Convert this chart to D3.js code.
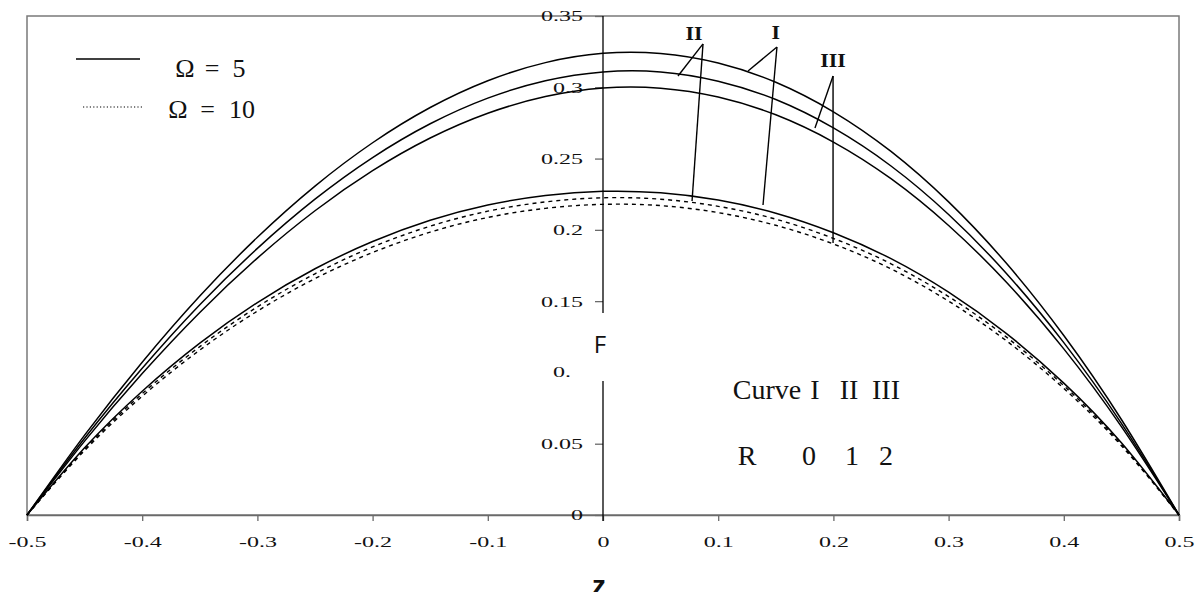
<!DOCTYPE html>
<html>
<head>
<meta charset="utf-8">
<script src="https://cdn.jsdelivr.net/npm/d3@7"></script>
<style>
  body { margin: 0; background: #fff; }
  svg { display: block; }
</style>
</head>
<body>
<div id="chart"></div>
<script>
// z positions (read every 0.05)
const zValues = [-0.5, -0.45, -0.4, -0.35, -0.3, -0.25, -0.2, -0.15, -0.1, -0.05, 0,
                 0.05, 0.1, 0.15, 0.2, 0.25, 0.3, 0.35, 0.4, 0.45, 0.5];

// Omega = 5, curves I, II, III (R = 0, 1, 2)
const omega5R0 = [0, 0.0560, 0.1072, 0.1536, 0.1948, 0.2307, 0.2611, 0.2858, 0.3046, 0.3173, 0.3238,
                  0.3237, 0.3170, 0.3035, 0.2828, 0.2550, 0.2196, 0.1767, 0.1259, 0.0670, 0];
const omega5R1 = [0, 0.0538, 0.1029, 0.1475, 0.1870, 0.2215, 0.2507, 0.2744, 0.2924, 0.3046, 0.3108,
                  0.3108, 0.3043, 0.2914, 0.2715, 0.2448, 0.2108, 0.1696, 0.1209, 0.0643, 0];
const omega5R2 = [0, 0.0518, 0.0992, 0.1421, 0.1802, 0.2134, 0.2415, 0.2644, 0.2818, 0.2935, 0.2995,
                  0.2994, 0.2932, 0.2807, 0.2616, 0.2359, 0.2031, 0.1634, 0.1165, 0.0620, 0];

// Omega = 10, curves I, II, III
const omega10R0 = [0, 0.0471, 0.0868, 0.1205, 0.1490, 0.1727, 0.1918, 0.2067, 0.2174, 0.2241, 0.2270,
                   0.2260, 0.2209, 0.2117, 0.1980, 0.1798, 0.1563, 0.1274, 0.0925, 0.0506, 0];
const omega10R1 = [0, 0.0462, 0.0851, 0.1181, 0.1460, 0.1692, 0.1880, 0.2026, 0.2131, 0.2196, 0.2225,
                   0.2215, 0.2165, 0.2075, 0.1940, 0.1762, 0.1532, 0.1249, 0.0907, 0.0496, 0];
const omega10R2 = [0, 0.0452, 0.0833, 0.1157, 0.1430, 0.1658, 0.1841, 0.1984, 0.2087, 0.2151, 0.2179,
                   0.2170, 0.2121, 0.2032, 0.1901, 0.1726, 0.1500, 0.1223, 0.0888, 0.0486, 0];

const xTicks = [-0.5, -0.4, -0.3, -0.2, -0.1, 0, 0.1, 0.2, 0.3, 0.4, 0.5];
const yTicks = [0, 0.05, 0.15, 0.2, 0.25, 0.3, 0.35];
const yTickLabels = ["0", "0.05", "0.15", "0.2", "0.25", "0.3", "0.35"];
const yAxisGap = [0.094, 0.1417];  // y axis is interrupted here (F label)

// curve labels and their leader lines, in data units
const curveNames = ["II", "I", "III"];
const curveLabelPos = [[0.079, 0.3332], [0.150, 0.3339], [0.1997, 0.3142]];
const leaderApex = [[0.0868, 0.3304], [0.151, 0.3283], [0.1997, 0.3079]];
const leaderEnds = [
  [[0.0651, 0.3079], [0.0773, 0.2202]],
  [[0.1259, 0.3114], [0.1389, 0.2174]],
  [[0.184, 0.2714], [0.1997, 0.1908]]
];

const tableHead = ["Curve", "I", "II", "III"];
const tableR = ["R", "0", "1", "2"];

const width = 1196, height = 592;
const margin = {left: 27, right: 17, top: 16, bottom: 77};

const svg = d3.select("#chart").append("svg")
  .attr("width", width)
  .attr("height", height);

const x = d3.scaleLinear().domain([-0.5, 0.5]).range([margin.left, width - margin.right]);
const y = d3.scaleLinear().domain([0, 0.35]).range([height - margin.bottom, margin.top]);

const numFont = "'Liberation Serif', 'Times New Roman', serif";
const stretch = 1.55;

// plot frame
svg.append("rect")
  .attr("x", x(-0.5)).attr("y", y(0.35))
  .attr("width", x(0.5) - x(-0.5)).attr("height", y(0) - y(0.35))
  .attr("fill", "none")
  .attr("stroke", "#7a7a7a")
  .attr("stroke-width", 1.5);

// x axis
const xAxis = svg.append("g")
  .attr("transform", `translate(0,${y(0)})`)
  .call(d3.axisBottom(x).tickValues(xTicks).tickSize(6).tickPadding(15)
    .tickFormat(d => d === 0 ? "0" : String(+d.toFixed(1))));
xAxis.select(".domain").attr("stroke", "#6a6a6a").attr("stroke-width", 1.5);
xAxis.selectAll(".tick line").attr("stroke", "#6a6a6a").attr("stroke-width", 1.3);
xAxis.selectAll("text")
  .attr("font-family", numFont)
  .attr("font-size", "15.5px")
  .attr("fill", "#111")
  .attr("transform", `scale(${stretch},1)`);

// y axis at z = 0
const yAxis = svg.append("g")
  .attr("transform", `translate(${x(0)},0)`)
  .call(d3.axisLeft(y).tickValues(yTicks).tickSize(8).tickPadding(0)
    .tickFormat((d, i) => yTickLabels[i]));
yAxis.select(".domain").remove();
yAxis.selectAll(".tick line").attr("stroke", "#6a6a6a").attr("stroke-width", 1.3);
yAxis.selectAll("text")
  .attr("font-family", numFont)
  .attr("font-size", "15.5px")
  .attr("fill", "#111")
  .attr("x", -20 / stretch)
  .attr("transform", `scale(${stretch},1)`);

// axis line, broken around the F label
yAxis.append("line")
  .attr("y1", y(0.35)).attr("y2", y(yAxisGap[1]))
  .attr("stroke", "#000").attr("stroke-width", 1.3);
yAxis.append("line")
  .attr("y1", y(yAxisGap[0])).attr("y2", y(0) + 6)
  .attr("stroke", "#000").attr("stroke-width", 1.3);

// truncated 0.1 label
svg.append("text")
  .attr("transform", `translate(${x(0) - 50},${y(0.1) + 5}) scale(${stretch},1)`)
  .attr("font-family", numFont)
  .attr("font-size", "15.5px")
  .attr("fill", "#111")
  .text("0.");

svg.append("text")
  .attr("x", x(0) - 3)
  .attr("y", 353)
  .attr("text-anchor", "middle")
  .attr("font-family", "'Open Sans', 'Liberation Sans', sans-serif")
  .attr("font-size", "24px")
  .attr("fill", "#111")
  .text("F");

svg.append("text")
  .attr("x", x(0) - 4)
  .attr("y", 595)
  .attr("text-anchor", "middle")
  .attr("font-family", "'Liberation Sans', Arial, sans-serif")
  .attr("font-weight", "bold")
  .attr("font-size", "28px")
  .attr("fill", "#111")
  .text("z");

// curves
const line = d3.line()
  .x(d => x(d[0]))
  .y(d => y(d[1]))
  .curve(d3.curveNatural);

const curves = [
  {vals: omega5R0, dash: null},
  {vals: omega5R1, dash: null},
  {vals: omega5R2, dash: null},
  {vals: omega10R0, dash: null},
  {vals: omega10R1, dash: "4,4"},
  {vals: omega10R2, dash: "4,4"}
];

svg.selectAll(".curve")
  .data(curves)
  .enter().append("path")
  .attr("class", "curve")
  .attr("d", c => line(zValues.map((z, i) => [z, c.vals[i]])))
  .attr("fill", "none")
  .attr("stroke", "#000")
  .attr("stroke-width", c => c.dash ? 1.4 : 1.5)
  .attr("stroke-dasharray", c => c.dash);

// leader lines and labels
curveNames.forEach((name, i) => {
  leaderEnds[i].forEach(end => {
    svg.append("line")
      .attr("x1", x(leaderApex[i][0])).attr("y1", y(leaderApex[i][1]))
      .attr("x2", x(end[0])).attr("y2", y(end[1]))
      .attr("stroke", "#000")
      .attr("stroke-width", 1.4);
  });
  svg.append("text")
    .attr("transform", `translate(${x(curveLabelPos[i][0])},${y(curveLabelPos[i][1])}) scale(1.15,1)`)
    .attr("text-anchor", "middle")
    .attr("font-family", numFont)
    .attr("font-weight", "bold")
    .attr("font-size", "19px")
    .attr("fill", "#111")
    .text(name);
});

// legend
const legendFont = "'Liberation Serif', 'DejaVu Serif', serif";
svg.append("line")
  .attr("x1", 76).attr("x2", 140).attr("y1", 59).attr("y2", 59)
  .attr("stroke", "#000").attr("stroke-width", 1.5);
svg.append("line")
  .attr("x1", 83).attr("x2", 144).attr("y1", 107).attr("y2", 107)
  .attr("stroke", "#000").attr("stroke-width", 1.2)
  .attr("stroke-dasharray", "1.2,2.2");

const legendRows = [
  {y: 77, parts: [["Ω", 185], ["=", 212], ["5", 239]]},
  {y: 118, parts: [["Ω", 178], ["=", 207.5], ["10", 242]]}
];
legendRows.forEach(r => {
  r.parts.forEach(p => {
    svg.append("text")
      .attr("x", p[1]).attr("y", r.y)
      .attr("text-anchor", "middle")
      .attr("font-family", legendFont)
      .attr("font-size", "26px")
      .attr("fill", "#111")
      .text(p[0]);
  });
});

// Curve / R table
const colX = [767, 815, 849, 886];
tableHead.forEach((t, i) => {
  svg.append("text")
    .attr("x", colX[i]).attr("y", 399)
    .attr("text-anchor", "middle")
    .attr("font-family", legendFont)
    .attr("font-size", "28px")
    .attr("fill", "#111")
    .text(t);
});
const rX = [747, 809, 852, 886];
tableR.forEach((t, i) => {
  svg.append("text")
    .attr("x", rX[i]).attr("y", 465)
    .attr("text-anchor", "middle")
    .attr("font-family", legendFont)
    .attr("font-size", "28px")
    .attr("fill", "#111")
    .text(t);
});
</script>
</body>
</html>
